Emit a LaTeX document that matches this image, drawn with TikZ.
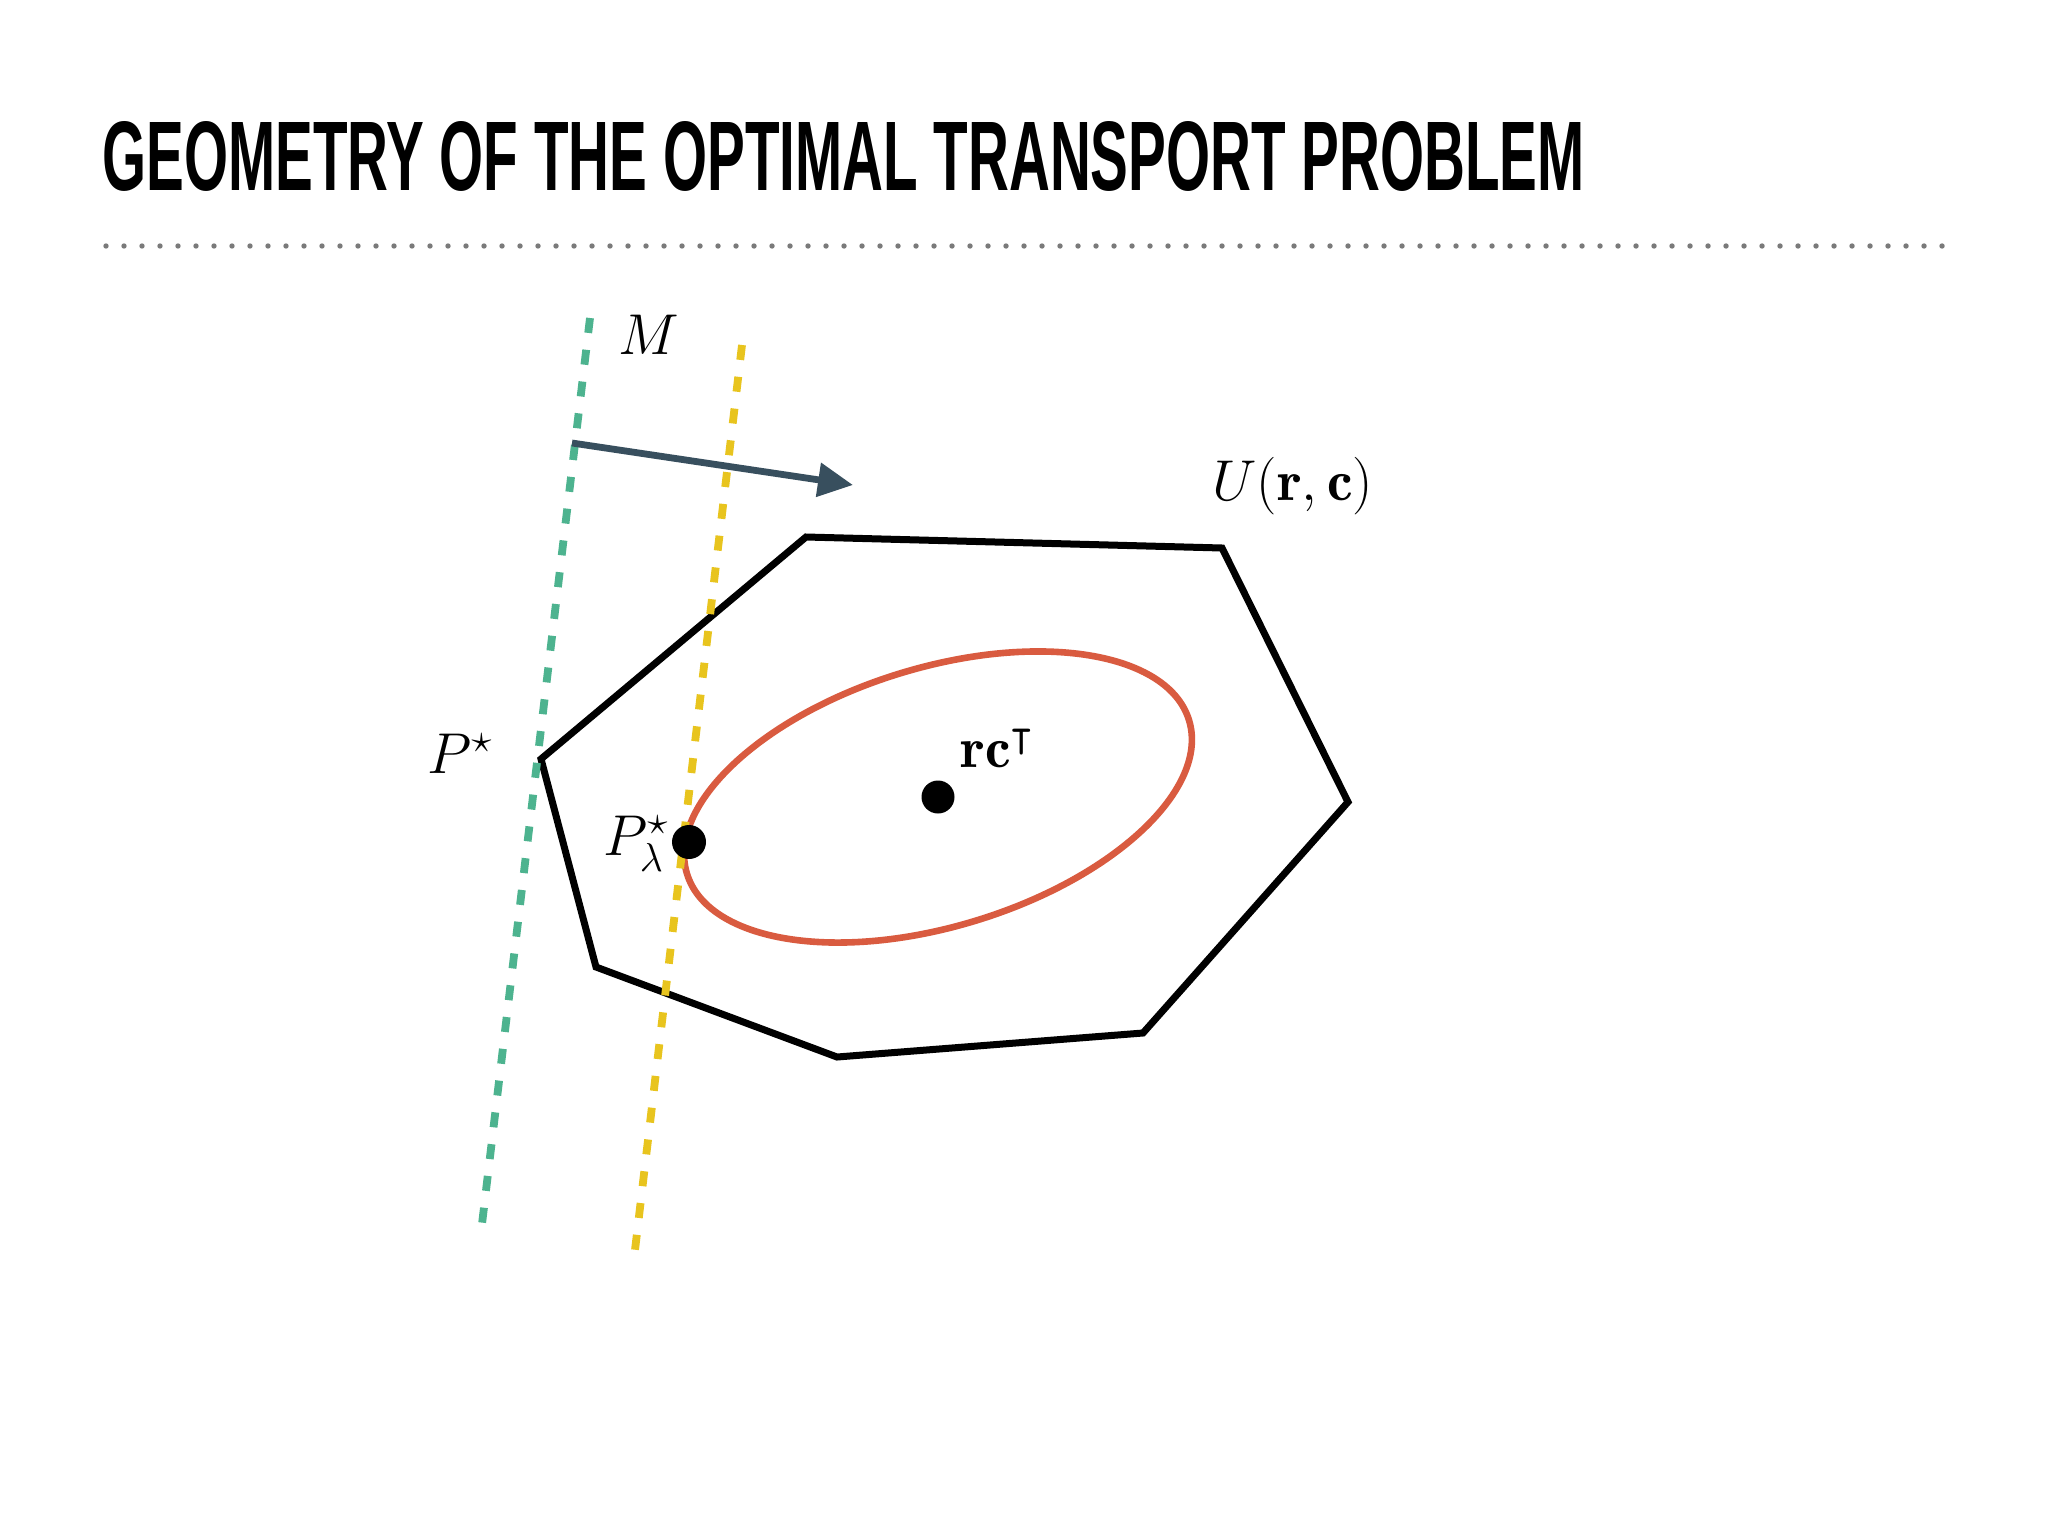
\RequirePackage{fix-cm}
\documentclass[tikz,border=0pt]{standalone}
\usepackage{amsmath,amssymb}
\usepackage{fontspec}
\newfontfamily\titlefont{Liberation Sans}
\usetikzlibrary{arrows.meta}
\definecolor{tealc}{HTML}{4DB38F}
\definecolor{yellowc}{HTML}{E8C41E}
\definecolor{redc}{HTML}{D95B40}
\definecolor{arrowc}{HTML}{384F5E}
\definecolor{dotgray}{HTML}{7A7A7A}
\tikzset{
  lbl/.style={inner sep=0pt, anchor=base west, font=\fontsize{28.8}{34}\selectfont},
  poly/.style={draw=black, line width=3.5pt, line join=miter},
  dashline/.style={line width=3.9pt, dash pattern=on 7.5pt off 8.5pt},
  ptdot/.style={circle, fill=black, inner sep=0pt, minimum size=#1},
  movearrow/.style={draw=arrowc, line width=3.4pt, -{Triangle[length=17.5pt,width=16.5pt]}},
  contour/.style={draw=redc, line width=3.3pt}
}
\begin{document}
\begin{tikzpicture}[x=0.5pt,y=-0.5pt]
\useasboundingbox (0,0) rectangle (2048,1536);
\fill[white] (0,0) rectangle (2048,1536);
% title
\node[inner sep=0pt, anchor=base west] (title) at (102,190)
  {\resizebox{741pt}{34.5pt}{\titlefont\bfseries GEOMETRY OF THE OPTIMAL TRANSPORT PROBLEM}};
\foreach \i in {0,...,102} \fill[dotgray] (106+18*\i,246) circle[radius=2.7];
% polytope
\coordinate (v1) at (806,537);
\coordinate (v2) at (1222,548);
\coordinate (v3) at (1348,802);
\coordinate (v4) at (1143,1033);
\coordinate (v5) at (837,1057);
\coordinate (v6) at (596,967);
\coordinate (v7) at (541,759);
\draw[poly] (v1) -- (v2) -- (v3) -- (v4) -- (v5) -- (v6) -- (v7) -- cycle;
% entropic contour
\draw[contour, rotate around={17:(938,797)}] (938,797) ellipse [x radius=262.5, y radius=129.3];
% level lines of M
\coordinate (t1) at (590,318);
\coordinate (t2) at (482,1224);
\coordinate (y1) at (742,345);
\coordinate (y2) at (635,1250);
\draw[dashline, draw=tealc] (t1) -- (t2);
\draw[dashline, draw=yellowc] (y1) -- (y2);
% direction arrow
\coordinate (a1) at (572,443);
\coordinate (a2) at (853,485);
\draw[movearrow] (a1) -- (a2);
% points
\node[ptdot=16.5pt] (rc) at (938,797) {};
\node[ptdot=17pt] (plam) at (689,842) {};
% labels
\node[lbl] (M) at (618,354) {$M$};
\node[lbl] (U) at (1212,500) {$U(\mathbf{r},\mathbf{c})$};
\node[lbl] (Pstar) at (427,773) {$P^\star$};
\node[lbl] (Plam) at (603,855) {$P^\star_\lambda$};
\node[lbl] (rcT) at (960,767) {$\mathbf{rc}^\intercal$};
\end{tikzpicture}
\end{document}
